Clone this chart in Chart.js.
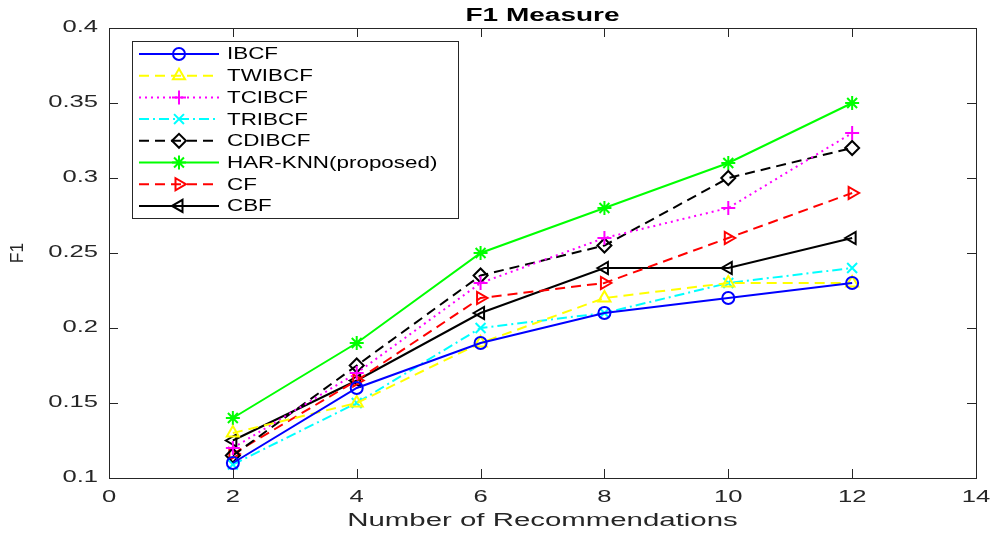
<!DOCTYPE html>
<html>
<head>
<meta charset="utf-8">
<script src="https://cdn.jsdelivr.net/npm/chart.js@4/dist/chart.umd.min.js"></script>
<style>
  html, body { margin: 0; padding: 0; background: #fff; }
  #wrap { width: 993px; height: 536px; position: relative; }
</style>
</head>
<body>
<div id="wrap"><canvas id="c"></canvas></div>
<script>
// values
const xs = [2, 4, 6, 8, 10, 12];
const xTicks = [0, 2, 4, 6, 8, 10, 12, 14];
const yTicks = [0.1, 0.15, 0.2, 0.25, 0.3, 0.35, 0.4];

const ibcf   = [0.11, 0.16, 0.19, 0.21, 0.22, 0.23];
const twibcf = [0.13, 0.15, 0.19, 0.22, 0.23, 0.23];
const tcibcf = [0.12, 0.17, 0.23, 0.26, 0.28, 0.33];
const tribcf = [0.109, 0.15, 0.20, 0.21, 0.23, 0.24];
const cdibcf = [0.115, 0.175, 0.235, 0.255, 0.30, 0.32];
const harknn = [0.14, 0.19, 0.25, 0.28, 0.31, 0.35];
const cf     = [0.116, 0.165, 0.22, 0.23, 0.26, 0.29];
const cbf    = [0.125, 0.165, 0.21, 0.24, 0.24, 0.26];

const FONT = "'Liberation Sans', Arial, sans-serif";
const INK = "#262626";
const DASH = [10, 6], DOT = [2, 4], DASHDOT = [10, 4, 2, 4];
// the figure's lettering is drawn wide, so text gets a horizontal stretch
const SX_AXIS = 1.6, SX_XTITLE = 1.68, SX_LEGEND = 1.4;

const series = [
  { label: "IBCF",              data: ibcf,   color: "#0000ff", dash: [],      style: "circle",   rot: 0,   r: 6 },
  { label: "TWIBCF",            data: twibcf, color: "#ffff00", dash: DASH,    style: "triangle", rot: 0,   r: 7 },
  { label: "TCIBCF",            data: tcibcf, color: "#ff00ff", dash: DOT,     style: "cross",    rot: 0,   r: 7 },
  { label: "TRIBCF",            data: tribcf, color: "#00ffff", dash: DASHDOT, style: "crossRot", rot: 0,   r: 7 },
  { label: "CDIBCF",            data: cdibcf, color: "#000000", dash: DASH,    style: "rectRot",  rot: 0,   r: 7 },
  { label: "HAR-KNN(proposed)", data: harknn, color: "#00ff00", dash: [],      style: "star",     rot: 0,   r: 7 },
  { label: "CF",                data: cf,     color: "#ff0000", dash: DASH,    style: "triangle", rot: 90,  r: 7 },
  { label: "CBF",               data: cbf,    color: "#000000", dash: [],      style: "triangle", rot: -90, r: 7 }
];

const datasets = series.map(s => ({
  label: s.label,
  data: xs.map((x, i) => ({ x, y: s.data[i] })),
  borderColor: s.color,
  backgroundColor: "rgba(0,0,0,0)",
  borderWidth: 2,
  borderDash: s.dash,
  pointStyle: s.style,
  pointRotation: s.rot,
  pointRadius: s.r,
  pointBorderWidth: 2,
  pointBorderColor: s.color,
  pointBackgroundColor: "rgba(0,0,0,0)",
  tension: 0,
  fill: false
}));

function wideText(ctx, text, x, y, sx, align) {
  ctx.save();
  ctx.translate(x, y);
  ctx.scale(sx, 1);
  ctx.textAlign = align;
  ctx.fillText(text, 0, 0);
  ctx.restore();
}

// MATLAB-like frame, inward ticks, labels, title and legend
const matlabFrame = {
  id: "matlabFrame",
  afterDatasetsDraw(chart) {
    const { ctx, chartArea: a, scales } = chart;
    ctx.save();
    ctx.strokeStyle = INK;
    ctx.lineWidth = 1;
    ctx.setLineDash([]);
    ctx.strokeRect(a.left + 0.5, a.top + 0.5, a.right - a.left, a.bottom - a.top);
    ctx.beginPath();
    xTicks.forEach(v => {
      const px = Math.round(scales.x.getPixelForValue(v)) + 0.5;
      ctx.moveTo(px, a.bottom); ctx.lineTo(px, a.bottom - 9);
      ctx.moveTo(px, a.top); ctx.lineTo(px, a.top + 9);
    });
    yTicks.forEach(v => {
      const py = Math.round(scales.y.getPixelForValue(v)) + 0.5;
      ctx.moveTo(a.left, py); ctx.lineTo(a.left + 9, py);
      ctx.moveTo(a.right, py); ctx.lineTo(a.right - 9, py);
    });
    ctx.stroke();

    // tick labels
    ctx.fillStyle = INK;
    ctx.textBaseline = "middle";
    ctx.font = "16px " + FONT;
    xTicks.forEach(v => wideText(ctx, String(v), scales.x.getPixelForValue(v), a.bottom + 20, SX_AXIS, "center"));
    yTicks.forEach(v => wideText(ctx, String(v), a.left - 11, scales.y.getPixelForValue(v), SX_AXIS, "right"));

    // axis titles
    ctx.font = "17.5px " + FONT;
    wideText(ctx, "Number of Recommendations", (a.left + a.right) / 2, a.bottom + 43, SX_XTITLE, "center");
    ctx.save();
    ctx.translate(18, (a.top + a.bottom) / 2);
    ctx.rotate(-Math.PI / 2);
    ctx.textAlign = "center";
    ctx.fillText("F1", 0, 0);
    ctx.restore();

    // title
    ctx.fillStyle = "#000";
    ctx.font = "bold 17.5px " + FONT;
    wideText(ctx, "F1 Measure", (a.left + a.right) / 2, 16, SX_AXIS, "center");

    // legend
    const lx = 132, ly = 41, lw = 326, lh = 177, rowH = 21.7;
    ctx.fillStyle = "#fff";
    ctx.fillRect(lx, ly, lw, lh);
    ctx.strokeStyle = INK;
    ctx.lineWidth = 1;
    ctx.strokeRect(lx + 0.5, ly + 0.5, lw, lh);
    ctx.font = "16px " + FONT;
    series.forEach((s, i) => {
      const y = ly + 13 + i * rowH;
      ctx.strokeStyle = s.color;
      ctx.lineWidth = 2;
      ctx.setLineDash(s.dash);
      ctx.beginPath();
      ctx.moveTo(139, y); ctx.lineTo(219, y);
      ctx.stroke();
      ctx.setLineDash([]);
      ctx.fillStyle = "rgba(0,0,0,0)";
      Chart.helpers.drawPoint(ctx, {
        pointStyle: s.style, rotation: s.rot, radius: s.r, borderWidth: 2
      }, 179, y);
      ctx.fillStyle = "#000";
      wideText(ctx, s.label, 227, y + 1, SX_LEGEND, "left");
    });
    ctx.restore();
  }
};

new Chart(document.getElementById("c"), {
  type: "line",
  data: { datasets },
  plugins: [matlabFrame],
  options: {
    responsive: true,
    maintainAspectRatio: false,
    animation: false,
    layout: { padding: { top: 28, right: 17, left: 0, bottom: 0 } },
    plugins: {
      legend: { display: false },
      title: { display: false },
      tooltip: { enabled: false }
    },
    scales: {
      x: {
        type: "linear", min: 0, max: 14,
        afterBuildTicks: s => { s.ticks = xTicks.map(v => ({ value: v })); },
        afterFit: s => { s.height = 58; s.paddingLeft = 0; s.paddingRight = 0; },
        grid: { display: false },
        border: { display: false },
        ticks: { display: false }
      },
      y: {
        min: 0.1, max: 0.4,
        afterBuildTicks: s => { s.ticks = yTicks.map(v => ({ value: v })); },
        afterFit: s => { s.width = 109; s.paddingTop = 0; s.paddingBottom = 0; },
        grid: { display: false },
        border: { display: false },
        ticks: { display: false }
      }
    }
  }
});
</script>
</body>
</html>
